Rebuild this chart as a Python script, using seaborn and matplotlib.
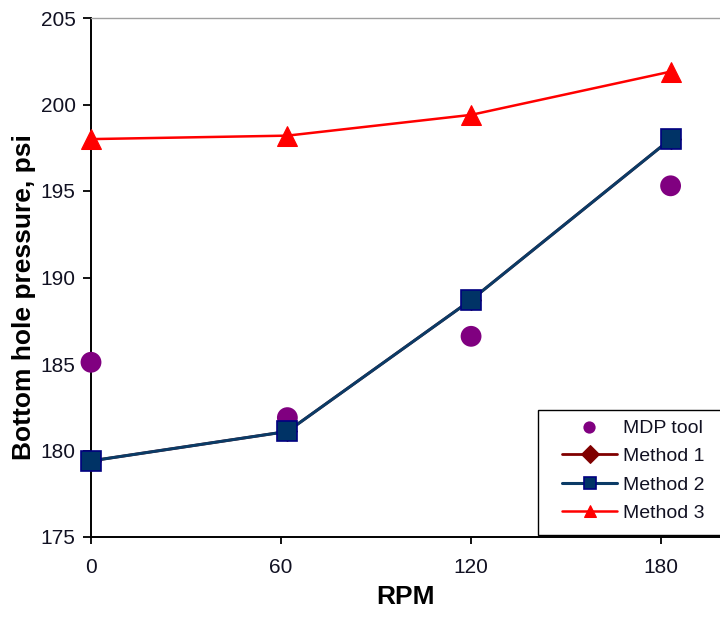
import matplotlib
matplotlib.use("Agg")
import matplotlib.pyplot as plt
from matplotlib.patches import Rectangle
import seaborn as sns
import pandas as pd

# Bottom hole pressure (psi) versus drill string rotation (RPM)
rpm = [0, 62, 120, 183]
mdp_tool = [185.1, 181.9, 186.6, 195.3]
method_1 = [179.4, 181.1, 188.7, 198.0]
method_2 = [179.4, 181.1, 188.7, 198.0]
method_3 = [198.0, 198.2, 199.4, 201.9]

x_ticks = [0, 60, 120, 180]
y_ticks = [175, 180, 185, 190, 195, 200, 205]

sns.set_theme(style="white")
plt.rcParams["font.family"] = ["Liberation Sans", "DejaVu Sans"]

df = pd.DataFrame({
    "RPM": rpm * 4,
    "psi": mdp_tool + method_1 + method_2 + method_3,
    "series": (["MDP tool"] * 4 + ["Method 1"] * 4
               + ["Method 2"] * 4 + ["Method 3"] * 4),
})

fig = plt.figure(figsize=(7.2, 6.17), dpi=100)
ax = fig.add_axes([91 / 720, 1 - 537 / 617, 629 / 720, 519 / 617])

styles = {
    "Method 1": dict(color="#800000", marker="D", markersize=10,
                     markerfacecolor="#800000", markeredgecolor="#800000",
                     linewidth=2.0, zorder=4),
    "Method 2": dict(color="#0B3B66", marker="s", markersize=15,
                     markerfacecolor="#003366", markeredgecolor="#000080",
                     markeredgewidth=1.2, linewidth=2.2, zorder=7),
    "Method 3": dict(color="#FF0000", marker="^", markersize=15,
                     markerfacecolor="#FF0000", markeredgecolor="#FF0000",
                     linewidth=1.8, zorder=5),
}

sns.scatterplot(data=df[df.series == "MDP tool"], x="RPM", y="psi", ax=ax,
                color="#800080", s=225, edgecolor="none", linewidth=0,
                label="MDP tool", zorder=6, clip_on=False)

for name in ["Method 1", "Method 2", "Method 3"]:
    sns.lineplot(data=df[df.series == name], x="RPM", y="psi", ax=ax,
                 label=name, estimator=None, sort=False,
                 clip_on=False, **styles[name])

ax.set_xlim(0, 198.6)
ax.set_ylim(175, 205)
ax.set_xticks(x_ticks)
ax.set_yticks(y_ticks)

ax.tick_params(axis="y", direction="out", length=6, width=1.3,
               color="black", labelsize=15, labelcolor="#111122", pad=5,
               left=True)
ax.tick_params(axis="x", direction="out", length=5, width=1.3,
               color="black", labelsize=15, labelcolor="#111122", pad=10,
               bottom=True)

for side in ["left", "bottom"]:
    ax.spines[side].set_color("black")
    ax.spines[side].set_linewidth(1.4)
ax.spines["top"].set_color("#A0A0A0")
ax.spines["top"].set_linewidth(1.0)
ax.spines["right"].set_visible(False)

ax.set_xlabel("RPM", fontsize=19, fontweight="bold", color="black")
ax.set_ylabel("Bottom hole pressure, psi", fontsize=19, fontweight="bold",
              color="black")
ax.xaxis.set_label_coords(0.5, -0.115)
ax.xaxis.label.set_verticalalignment("center")
ax.yaxis.set_label_coords(-0.107, 0.4624)
ax.yaxis.label.set_verticalalignment("center")

# Legend box, running off the right-hand edge
ax.add_patch(Rectangle(((538 - 91) / 629, 0.004), 0.35,
                       (535 - 410.5) / 519, transform=ax.transAxes,
                       facecolor="white", edgecolor="black", linewidth=1.0,
                       clip_on=False, zorder=9))

handles, labels = ax.get_legend_handles_labels()
leg = ax.legend(handles, labels, loc="upper left",
                bbox_to_anchor=((562 - 91) / 629, (537 - 419) / 519),
                fontsize=14, frameon=False, borderpad=0.0,
                labelspacing=0.56, handlelength=2.83, handletextpad=0.31,
                borderaxespad=0.0)
leg.set_zorder(10)
for h in leg.legend_handles:
    if hasattr(h, "set_markersize"):
        h.set_markersize(8.8)
    else:
        h.set_sizes([78])
for t in leg.get_texts():
    t.set_color("#111122")

fig.savefig("out.png", dpi=100, facecolor="white")
